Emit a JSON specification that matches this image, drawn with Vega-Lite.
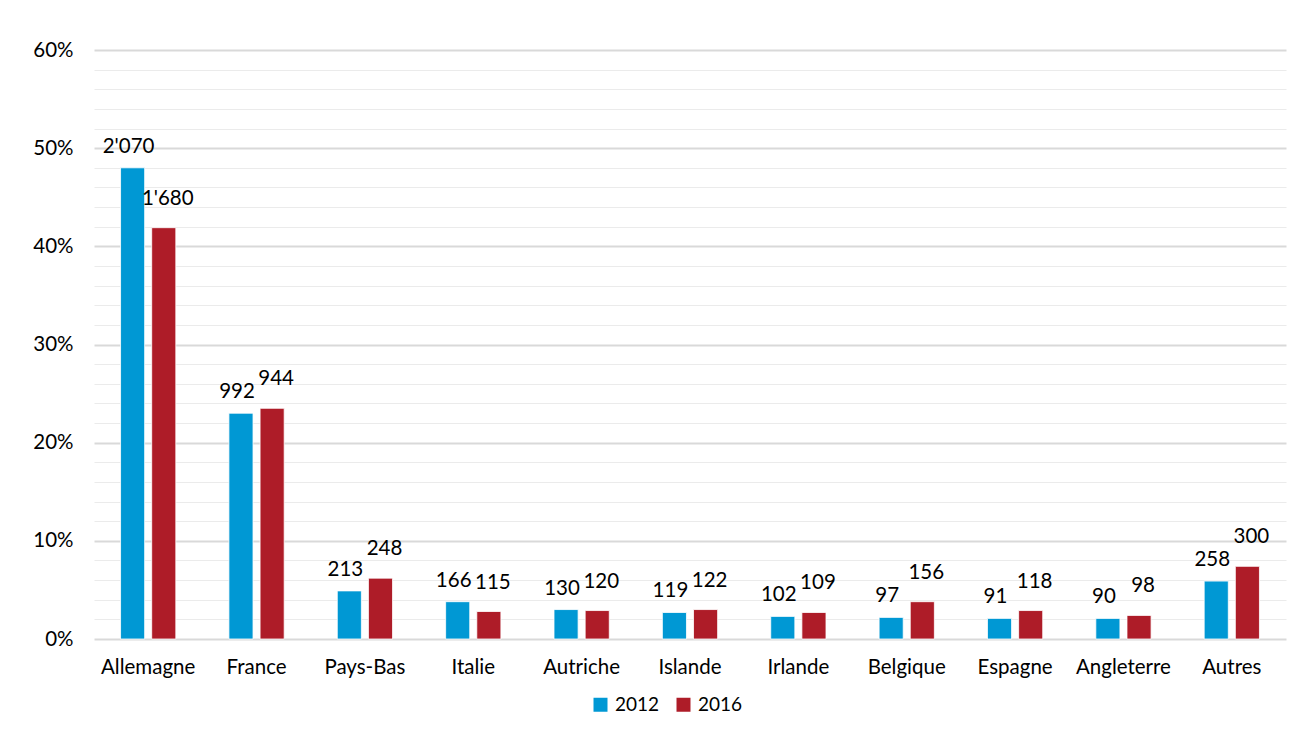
{
  "$schema": "https://vega.github.io/schema/vega-lite/v6.json",
  "width": 1192,
  "height": 589,
  "autosize": {"type": "none"},
  "padding": {"left": 94, "top": 50, "right": 22, "bottom": 92},
  "background": "white",
  "config": {
    "font": "Lato",
    "view": {"stroke": null},
    "axis": {"labelFont": "Lato", "labelFontSize": 20.5, "labelColor": "#000000"},
    "legend": {"labelFont": "Lato", "labelFontSize": 19, "labelColor": "#000000"}
  },
  "data": {
    "values": [
      {"pays": "Allemagne", "annee": "2012", "part": 0.480, "nombre": "2'070"},
      {"pays": "Allemagne", "annee": "2016", "part": 0.419, "nombre": "1'680"},
      {"pays": "France", "annee": "2012", "part": 0.230, "nombre": "992"},
      {"pays": "France", "annee": "2016", "part": 0.235, "nombre": "944"},
      {"pays": "Pays-Bas", "annee": "2012", "part": 0.049, "nombre": "213"},
      {"pays": "Pays-Bas", "annee": "2016", "part": 0.062, "nombre": "248"},
      {"pays": "Italie", "annee": "2012", "part": 0.038, "nombre": "166"},
      {"pays": "Italie", "annee": "2016", "part": 0.028, "nombre": "115"},
      {"pays": "Autriche", "annee": "2012", "part": 0.030, "nombre": "130"},
      {"pays": "Autriche", "annee": "2016", "part": 0.029, "nombre": "120"},
      {"pays": "Islande", "annee": "2012", "part": 0.027, "nombre": "119"},
      {"pays": "Islande", "annee": "2016", "part": 0.030, "nombre": "122"},
      {"pays": "Irlande", "annee": "2012", "part": 0.023, "nombre": "102"},
      {"pays": "Irlande", "annee": "2016", "part": 0.027, "nombre": "109"},
      {"pays": "Belgique", "annee": "2012", "part": 0.022, "nombre": "97"},
      {"pays": "Belgique", "annee": "2016", "part": 0.038, "nombre": "156"},
      {"pays": "Espagne", "annee": "2012", "part": 0.021, "nombre": "91"},
      {"pays": "Espagne", "annee": "2016", "part": 0.029, "nombre": "118"},
      {"pays": "Angleterre", "annee": "2012", "part": 0.021, "nombre": "90"},
      {"pays": "Angleterre", "annee": "2016", "part": 0.024, "nombre": "98"},
      {"pays": "Autres", "annee": "2012", "part": 0.059, "nombre": "258"},
      {"pays": "Autres", "annee": "2016", "part": 0.074, "nombre": "300"}
    ]
  },
  "encoding": {
    "x": {
      "field": "pays",
      "type": "nominal",
      "sort": null,
      "scale": {"paddingInner": 0.49, "paddingOuter": 0.245},
      "axis": {"title": null, "labelAngle": 0, "ticks": false, "domain": false, "labelPadding": 18, "labelBaseline": "top"}
    },
    "xOffset": {
      "field": "annee",
      "type": "nominal",
      "scale": {"domain": ["2012", "2016"], "paddingInner": 0.226, "paddingOuter": 0}
    },
    "y": {
      "field": "part",
      "type": "quantitative",
      "scale": {"domain": [0, 0.6], "nice": false},
      "axis": {
        "title": null,
        "values": [0, 0.02, 0.04, 0.06, 0.08, 0.1, 0.12, 0.14, 0.16, 0.18, 0.2, 0.22, 0.24, 0.26, 0.28, 0.3, 0.32, 0.34, 0.36, 0.38, 0.4, 0.42, 0.44, 0.46, 0.48, 0.5, 0.52, 0.54, 0.56, 0.58, 0.6],
        "labelExpr": "round(datum.value*100) % 10 === 0 ? format(datum.value, '.0%') : ''",
        "ticks": false,
        "domain": false,
        "labelPadding": 21,
        "grid": true,
        "gridColor": {"condition": {"test": "round(datum.value*100) % 10 === 0", "value": "#d9d9d9"}, "value": "#ebebeb"},
        "gridWidth": {"condition": {"test": "round(datum.value*100) % 10 === 0", "value": 2}, "value": 1.2}
      }
    }
  },
  "layer": [
    {
      "mark": {"type": "bar", "stroke": "white", "strokeWidth": 0.8},
      "encoding": {
        "color": {
          "field": "annee",
          "type": "nominal",
          "scale": {"domain": ["2012", "2016"], "range": ["#0098d4", "#ae1c28"]},
          "legend": {
            "title": null,
            "orient": "none",
            "direction": "horizontal",
            "legendX": 497,
            "legendY": 645,
            "symbolType": "square",
            "symbolSize": 196,
            "symbolStrokeWidth": 0,
            "columnPadding": 14,
            "labelOffset": 5
          }
        }
      }
    },
    {
      "transform": [{"filter": "datum.annee === '2012'"}],
      "mark": {"type": "text", "fontSize": 20.5, "baseline": "middle", "dy": -21, "dx": -4, "color": "#000000"},
      "encoding": {"text": {"field": "nombre"}}
    },
    {
      "transform": [{"filter": "datum.annee === '2016'"}],
      "mark": {"type": "text", "fontSize": 20.5, "baseline": "middle", "dy": -29, "dx": 4, "color": "#000000"},
      "encoding": {"text": {"field": "nombre"}}
    }
  ]
}
